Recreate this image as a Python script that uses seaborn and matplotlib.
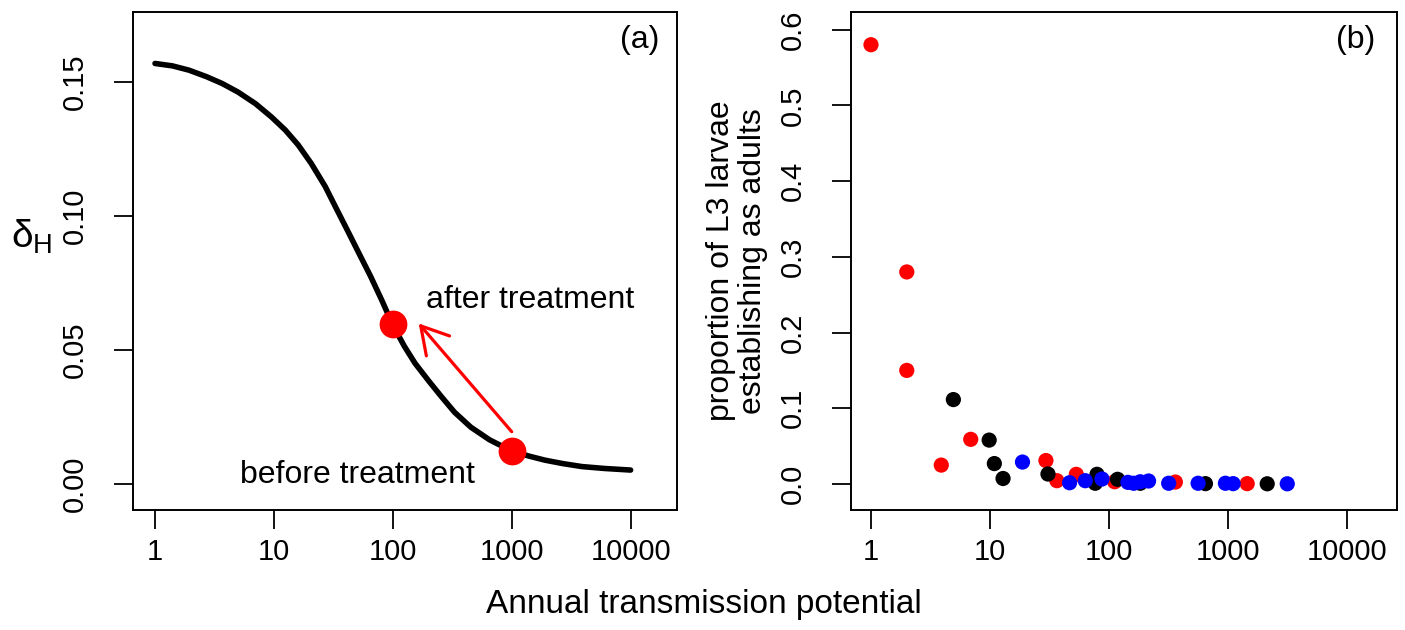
import matplotlib
matplotlib.use("Agg")
import matplotlib.pyplot as plt
import seaborn as sns
import pandas as pd

# Panel (a): curve
curve_x = [1, 1.4, 1.93, 2.7, 3.68, 5, 7.0, 9.5, 12.5, 16, 20.6, 27, 34, 42, 52, 65, 80.7, 100,
           125, 154, 200, 254, 330, 453, 650, 1000, 1400, 1900, 2700, 3900, 6000, 10000]
curve_y = [0.1569, 0.1560, 0.1544, 0.1520, 0.1494, 0.1462, 0.1419, 0.1370, 0.132, 0.1265, 0.1196,
           0.1110, 0.1022, 0.0942, 0.086, 0.0775, 0.0686, 0.0593, 0.0514, 0.0450, 0.0385, 0.0328,
           0.0268, 0.0212, 0.0165, 0.0123, 0.0104, 0.0089, 0.0076, 0.0065, 0.0058, 0.0052]
treat_x = [100, 1000]
treat_y = [0.0598, 0.0123]

# Panel (b): three groups of points
red_x = [1, 2, 2, 3.9, 6.9, 29.6, 36.6, 53.3, 112, 363, 1459]
red_y = [0.58, 0.28, 0.15, 0.025, 0.059, 0.031, 0.0044, 0.0128, 0.003, 0.0026, 0.0005]
black_x = [4.93, 9.86, 10.9, 12.9, 30.8, 79.6, 76.9, 118.6, 184, 650, 2150]
black_y = [0.1115, 0.058, 0.027, 0.0073, 0.0132, 0.0128, 0.001, 0.0062, 0.001, 0.0005, 0.0003]
blue_x = [18.8, 46.8, 63.4, 87.7, 145, 162, 184, 216, 319, 564, 957, 1111, 3170]
blue_y = [0.029, 0.0017, 0.0044, 0.0066, 0.0022, 0.001, 0.003, 0.004, 0.001, 0.001, 0.001, 0.0005, 0.0003]

x_ticks = [1, 10, 100, 1000, 10000]
x_ticklabels = ["1", "10", "100", "1000", "10000"]
a_yticks = [0.00, 0.05, 0.10, 0.15]
a_yticklabels = ["0.00", "0.05", "0.10", "0.15"]
b_yticks = [0.0, 0.1, 0.2, 0.3, 0.4, 0.5, 0.6]
b_yticklabels = ["0.0", "0.1", "0.2", "0.3", "0.4", "0.5", "0.6"]

sns.set_style("ticks")
plt.rcParams["font.family"] = ["Liberation Sans", "DejaVu Sans"]
plt.rcParams["mathtext.fontset"] = "custom"
plt.rcParams["mathtext.rm"] = "Liberation Sans"
plt.rcParams["mathtext.it"] = "Liberation Sans"
plt.rcParams["text.color"] = "black"
plt.rcParams["axes.labelcolor"] = "black"
plt.rcParams["xtick.color"] = "black"
plt.rcParams["ytick.color"] = "black"
plt.rcParams["xtick.labelcolor"] = "black"
plt.rcParams["ytick.labelcolor"] = "black"

fig = plt.figure(figsize=(14.05, 6.3), dpi=100)
W, H = 1405, 630
ax1 = fig.add_axes([133 / W, 1 - 510 / H, 544 / W, 498 / H])
ax2 = fig.add_axes([851 / W, 1 - 510 / H, 546 / W, 498 / H])

# ---- panel (a)
sns.lineplot(x=curve_x, y=curve_y, ax=ax1, color="black", linewidth=4, sort=False,
             solid_capstyle="round", solid_joinstyle="round")
sns.scatterplot(x=treat_x, y=treat_y, ax=ax1, color="red", s=400, linewidth=0, zorder=3)
ax1.annotate("", xy=(165, 0.0599), xytext=(1000, 0.0195),
             arrowprops=dict(arrowstyle="->,head_length=1.9,head_width=1.1",
                             color="red", lw=2.3, shrinkA=0, shrinkB=0))
ax1.text(190, 0.0656, "after treatment", fontsize=23, ha="left", va="baseline")
ax1.text(5.19, 0.0004, "before treatment", fontsize=23, ha="left", va="baseline")
ax1.text(0.967, 0.944, "(a)", transform=ax1.transAxes, fontsize=23, ha="right", va="center")
ax1.set_xscale("log")
ax1.set_xlim(0.653, 24550)
ax1.set_ylim(-0.0097, 0.1761)
ax1.set_yticks(a_yticks)
ax1.set_yticklabels(a_yticklabels)

# ---- panel (b)
pts = pd.DataFrame({
    "x": red_x + black_x + blue_x,
    "y": red_y + black_y + blue_y,
    "grp": ["red"] * len(red_x) + ["black"] * len(black_x) + ["blue"] * len(blue_x),
})
sns.scatterplot(data=pts, x="x", y="y", hue="grp",
                palette={"red": "red", "black": "black", "blue": "blue"},
                s=120, linewidth=0, legend=False, ax=ax2)
ax2.text(0.96, 0.944, "(b)", transform=ax2.transAxes, fontsize=23, ha="right", va="center")
ax2.set_xscale("log")
ax2.set_xlim(0.679, 26550)
ax2.set_ylim(-0.0343, 0.6232)
ax2.set_yticks(b_yticks)
ax2.set_yticklabels(b_yticklabels)
ax2.set_xlabel("")
ax2.set_ylabel("proportion of L3 larvae\nestablishing as adults", fontsize=23, labelpad=8,
               linespacing=1.1)

for ax in (ax1, ax2):
    ax.set_xticks(x_ticks)
    ax.set_xticklabels(x_ticklabels)
    ax.minorticks_off()
    ax.tick_params(axis="both", length=13.5, width=1.3, labelsize=21, color="black",
                   labelcolor="black")
    ax.tick_params(axis="x", pad=7)
    ax.tick_params(axis="y", pad=18)
    for lab in ax.get_yticklabels():
        lab.set_rotation(90)
        lab.set_va("center")
    for sp in ax.spines.values():
        sp.set_visible(True)
        sp.set_linewidth(1.4)
        sp.set_color("black")
ax1.set_xlabel("")
ax1.set_ylabel("")

fig.text(32 / W, 1 - 237 / H, r"$\delta_\mathrm{H}$", fontsize=28, ha="center", va="center")
fig.text(704 / W, 1 - 605 / H, "Annual transmission potential", fontsize=24, ha="center", va="center")

fig.savefig("out.png", dpi=100)
